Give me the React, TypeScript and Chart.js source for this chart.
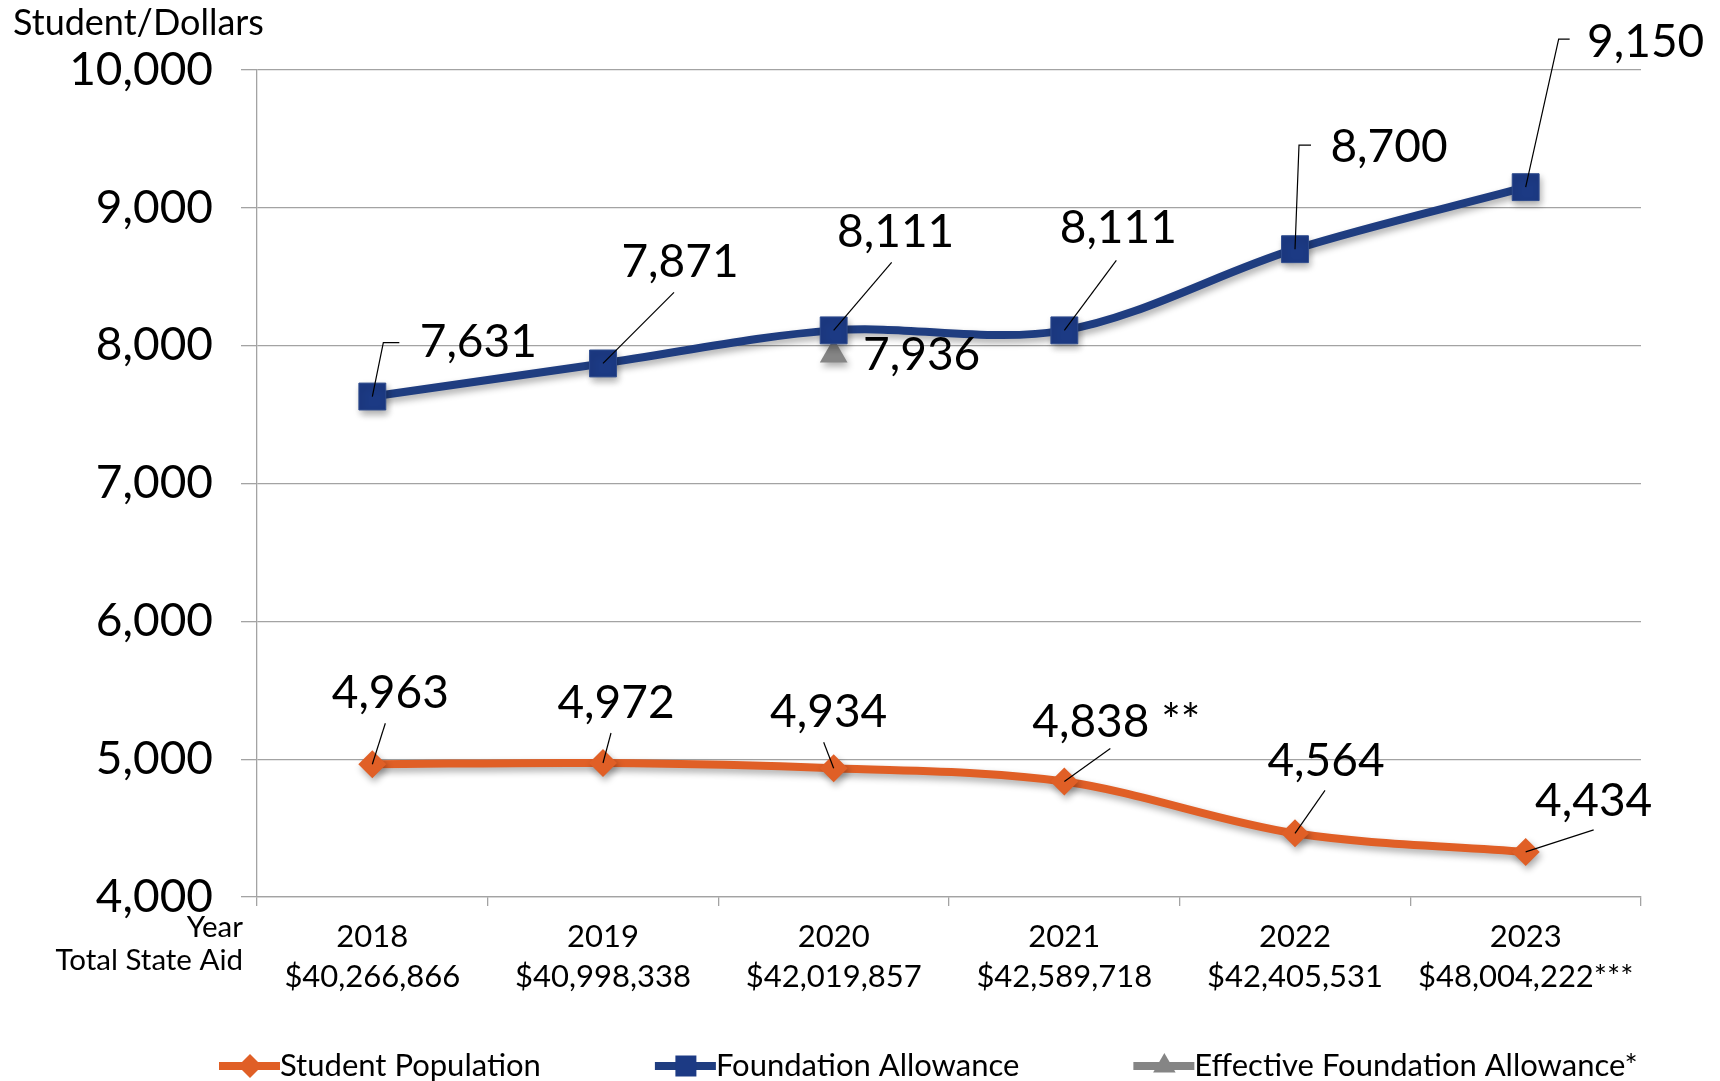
import React, { useEffect, useRef } from 'react';
import { Chart, registerables } from 'chart.js';

Chart.register(...registerables);

// ---------- data ----------
const years = ['2018', '2019', '2020', '2021', '2022', '2023'];
const totalStateAid = ['$40,266,866', '$40,998,338', '$42,019,857', '$42,589,718', '$42,405,531', '$48,004,222***'];

const studentPopulation = [4963, 4972, 4934, 4838, 4462, 4327];
const studentLabels = ['4,963', '4,972', '4,934', '4,838 **', '4,564', '4,434'];

const foundationAllowance = [7631, 7871, 8111, 8111, 8700, 9150];
const foundationLabels = ['7,631', '7,871', '8,111', '8,111', '8,700', '9,150'];

const effectiveFoundation = [null, null, 7936, null, null, null];
const effectiveLabels = ['', '', '7,936', '', '', ''];

const seriesNames = ['Student Population', 'Foundation Allowance', 'Effective Foundation Allowance*'];
const yMin = 4000;
const yMax = 10000;
const yStep = 1000;
const yAxisTitle = 'Student/Dollars';
const xAxisTitles = ['Year', 'Total State Aid'];

// ---------- styles / label placement (offsets relative to each point) ----------
const ORANGE = '#E05F26';
const BLUE = '#1F3D80';
const BLUE_MARK = '#1C3A84';
const GRAY = '#858585';
const GRID = '#A3A3A3';
const FONT = 'Lato';

type LP = { dx: number; dy: number; lx?: number; ly?: number; hook?: number } | null;
const studentLabelPos: LP[] = [
  { dx: 18, dy: -71, lx: 13, ly: -41 },
  { dx: 13, dy: -60, lx: 8, ly: -30 },
  { dx: -5, dy: -56, lx: -10, ly: -26 },
  { dx: 52, dy: -59, lx: 46, ly: -33 },
  { dx: 31, dy: -72, lx: 30, ly: -43 },
  { dx: 68, dy: -51, lx: 68, ly: -22 },
];
const foundationLabelPos: LP[] = [
  { dx: 106, dy: -54, lx: 11, ly: -54, hook: 16 },
  { dx: 77, dy: -101, lx: 71, ly: -71 },
  { dx: 62, dy: -98, lx: 58, ly: -68 },
  { dx: 54, dy: -102, lx: 52, ly: -70 },
  { dx: 94, dy: -102, lx: 4, ly: -104, hook: 12 },
  { dx: 120, dy: -145, lx: 33, ly: -148, hook: 11 },
];
const effectiveLabelPos: LP[] = [null, null, { dx: 88, dy: 1 }, null, null, null];

const labelSets = [
  { texts: studentLabels, pos: studentLabelPos },
  { texts: foundationLabels, pos: foundationLabelPos },
  { texts: effectiveLabels, pos: effectiveLabelPos },
];

function drawMarker(ctx: CanvasRenderingContext2D, style: string, x: number, y: number, r: number, color: string) {
  ctx.beginPath();
  if (style === 'rectRot') {
    ctx.moveTo(x, y - r);
    ctx.lineTo(x + r, y);
    ctx.lineTo(x, y + r);
    ctx.lineTo(x - r, y);
  } else if (style === 'rect') {
    ctx.rect(x - r, y - r, 2 * r, 2 * r);
  } else {
    ctx.moveTo(x, y - r);
    ctx.lineTo(x + r * 0.866, y + r * 0.5);
    ctx.lineTo(x - r * 0.866, y + r * 0.5);
  }
  ctx.closePath();
  ctx.fillStyle = color;
  ctx.fill();
}

const decorPlugin = {
  id: 'decor',
  beforeDatasetsDraw(chart: any) {
    const ctx = chart.ctx;
    ctx.save();
    ctx.shadowColor = 'rgba(0,0,0,0.33)';
    ctx.shadowBlur = 7;
    ctx.shadowOffsetX = 2;
    ctx.shadowOffsetY = 4;
  },
  afterDatasetsDraw(chart: any) {
    const ctx = chart.ctx as CanvasRenderingContext2D;
    ctx.restore();
    ctx.save();
    labelSets.forEach((set, d) => {
      const meta = chart.getDatasetMeta(d);
      meta.data.forEach((el: any, i: number) => {
        const p = set.pos[i];
        const t = set.texts[i];
        if (!p || !t || el.skip || isNaN(el.y)) return;
        const x = el.x;
        const y = el.y;
        if (p.lx !== undefined && p.ly !== undefined) {
          ctx.beginPath();
          ctx.strokeStyle = '#000';
          ctx.lineWidth = 1.2;
          ctx.moveTo(x, y);
          ctx.lineTo(x + p.lx, y + p.ly);
          if (p.hook) ctx.lineTo(x + p.lx + p.hook, y + p.ly);
          ctx.stroke();
        }
        ctx.font = `46px ${FONT}`;
        ctx.fillStyle = '#000';
        ctx.textAlign = 'center';
        ctx.textBaseline = 'middle';
        ctx.fillText(t, x + p.dx, y + p.dy);
      });
    });
    ctx.restore();
  },
  afterDraw(chart: any) {
    const ctx = chart.ctx as CanvasRenderingContext2D;
    const area = chart.chartArea;
    ctx.save();
    ctx.fillStyle = '#000';
    // y axis title
    ctx.font = `36px ${FONT}`;
    ctx.textAlign = 'left';
    ctx.textBaseline = 'middle';
    ctx.fillText(yAxisTitle, 13, 23);
    // x axis row titles
    ctx.font = `29.5px ${FONT}`;
    ctx.textAlign = 'right';
    ctx.fillText(xAxisTitles[0], area.left - 14, area.bottom + 30);
    ctx.fillText(xAxisTitles[1], area.left - 14, area.bottom + 63);

    // legend
    const styles = ['rectRot', 'rect', 'triangle'];
    const radii = [12, 10.5, 13];
    let lx = 219;
    const ly = 1066;
    ctx.font = `31px ${FONT}`;
    ctx.textAlign = 'left';
    ctx.textBaseline = 'middle';
    chart.data.datasets.forEach((ds: any, i: number) => {
      const col = ds.borderColor;
      ctx.beginPath();
      ctx.strokeStyle = col;
      ctx.lineWidth = 8;
      ctx.moveTo(lx, ly);
      ctx.lineTo(lx + 61, ly);
      ctx.stroke();
      drawMarker(ctx, styles[i], lx + 31, ly, radii[i], ds.pointBackgroundColor);
      ctx.fillStyle = '#000';
      ctx.fillText(ds.label, lx + 61, ly);
      lx += 61 + ctx.measureText(ds.label).width + 114;
    });
    ctx.restore();
  },
};

export default function App() {
  const ref = useRef<HTMLCanvasElement | null>(null);

  useEffect(() => {
    if (!ref.current) return;
    Chart.defaults.font.family = FONT;
    const chart = new Chart(ref.current, {
      type: 'line',
      data: {
        labels: years.map((y, i) => [y, totalStateAid[i]]),
        datasets: [
          {
            label: seriesNames[0],
            data: studentPopulation,
            borderColor: ORANGE,
            backgroundColor: ORANGE,
            borderWidth: 8,
            tension: 0.33,
            pointStyle: 'rectRot',
            pointRadius: 14,
            pointBackgroundColor: ORANGE,
            pointBorderColor: ORANGE,
            pointBorderWidth: 0,
          },
          {
            label: seriesNames[1],
            data: foundationAllowance,
            borderColor: BLUE,
            backgroundColor: BLUE_MARK,
            borderWidth: 8,
            tension: 0.33,
            pointStyle: 'rect',
            pointRadius: 19,
            pointBackgroundColor: BLUE_MARK,
            pointBorderColor: '#2F4C8E',
            pointBorderWidth: 1,
          },
          {
            label: seriesNames[2],
            data: effectiveFoundation,
            borderColor: GRAY,
            backgroundColor: GRAY,
            borderWidth: 8,
            pointStyle: 'triangle',
            pointRadius: 16,
            pointBackgroundColor: GRAY,
            pointBorderColor: GRAY,
            pointBorderWidth: 0,
          },
        ],
      },
      options: {
        animation: false,
        responsive: false,
        layout: { padding: { top: 70, right: 79, left: 0, bottom: 0 } },
        plugins: {
          legend: { display: false },
          tooltip: { enabled: false },
          title: { display: false },
        },
        scales: {
          x: {
            offset: true,
            grid: { offset: true, drawOnChartArea: false, drawTicks: true, tickLength: 9, color: GRID, lineWidth: 1.3 },
            border: { display: true, color: GRID, width: 1.3 },
            ticks: {
              font: { size: 31, lineHeight: 1.29 },
              color: '#000',
              padding: 11,
              maxRotation: 0,
              autoSkip: false,
            },
            afterFit: (s: any) => {
              s.height = 184;
            },
          },
          y: {
            min: yMin,
            max: yMax,
            ticks: {
              stepSize: yStep,
              font: { size: 46 },
              color: '#000',
              padding: 28,
              callback: (v: any) => Number(v).toLocaleString('en-US'),
            },
            grid: { color: GRID, lineWidth: 1.3, tickLength: 16 },
            border: { color: GRID, width: 1.3 },
            afterFit: (s: any) => {
              s.width = 257;
            },
          },
        },
      },
      plugins: [decorPlugin],
    } as any);
    return () => chart.destroy();
  }, []);

  return (
    <div style={{ position: 'fixed', left: 0, top: 0, width: 1720, height: 1081, background: '#fff' }}>
      <canvas ref={ref} width={1720} height={1081} style={{ display: 'block' }} />
    </div>
  );
}
